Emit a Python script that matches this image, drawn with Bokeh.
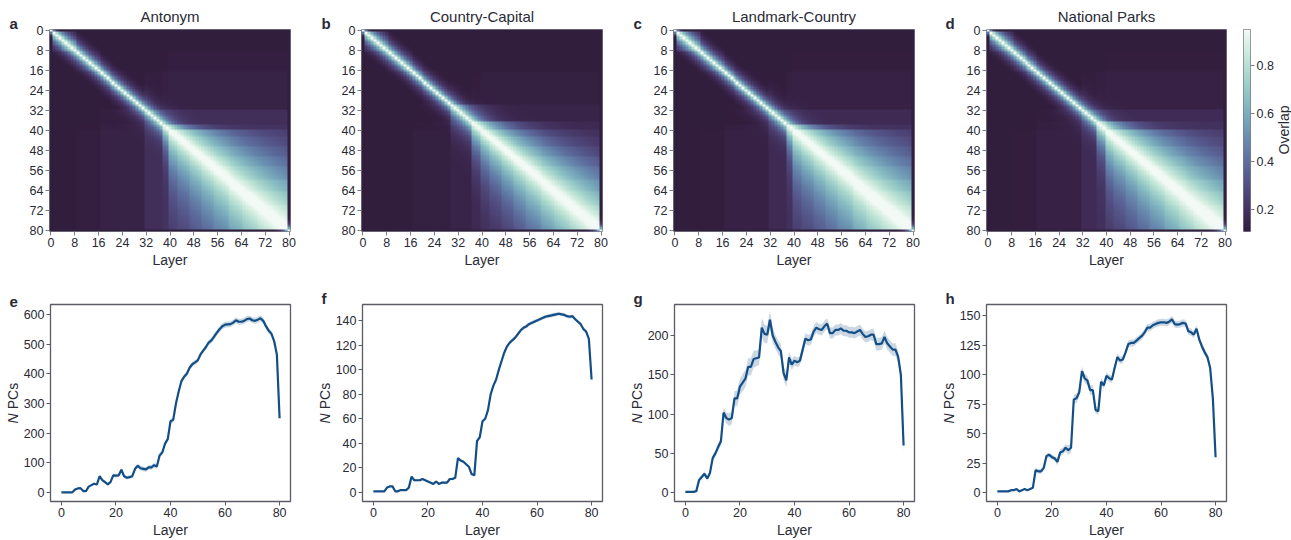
import numpy as np
from bokeh.plotting import figure
from bokeh.models import Range1d, FixedTicker, LinearColorMapper
from bokeh.core.properties import value
from bokeh.layouts import row, column
from bokeh.embed import file_html
from bokeh.resources import INLINE

# ---------------- data ----------------
layers = list(range(81))

titles = ["Antonym", "Country-Capital", "Landmark-Country", "National Parks"]
top_letters = ["a", "b", "c", "d"]
bottom_letters = ["e", "f", "g", "h"]
heat_ticks = [0, 8, 16, 24, 32, 40, 48, 56, 64, 72, 80]
cbar_ticks = [0.2, 0.4, 0.6, 0.8]
overlap_low, overlap_high = 0.11, 0.95

# overlap matrices: per layer segment (start layer), persistence width, background level
antonym_edges = [0, 1, 4, 9, 17, 32, 38, 40, 43, 47, 51, 55, 60, 65, 70, 75, 80]
antonym_width = [1.0, 3.5, 4.0, 3.0, 2.6, 3.0, 6.0, 13, 15, 17, 19, 21, 24, 27, 30, 32, 1.5]
antonym_floor = [0.06, 0.06, 0.06, 0.07, 0.09, 0.16, 0.19, 0.21, 0.21, 0.21, 0.21, 0.21, 0.21, 0.21, 0.21, 0.21, 0.05]

country_edges = [0, 1, 4, 9, 17, 30, 37, 40, 43, 47, 51, 55, 60, 65, 70, 75, 80]
country_width = [1.0, 3.5, 3.5, 3.0, 2.6, 4.0, 8.0, 11, 13, 15, 17, 19, 21, 23, 25, 27, 1.5]
country_floor = [0.06, 0.06, 0.06, 0.07, 0.09, 0.12, 0.15, 0.17, 0.17, 0.17, 0.17, 0.17, 0.17, 0.17, 0.17, 0.17, 0.05]

landmark_edges = [0, 1, 4, 9, 17, 32, 38, 40, 43, 47, 51, 55, 60, 65, 70, 75, 80]
landmark_width = [1.0, 4.0, 4.0, 3.0, 2.6, 3.0, 7.0, 14, 16, 18, 20, 22, 25, 28, 30, 32, 1.5]
landmark_floor = [0.06, 0.06, 0.06, 0.07, 0.09, 0.14, 0.18, 0.20, 0.20, 0.20, 0.20, 0.20, 0.20, 0.20, 0.20, 0.20, 0.05]

parks_edges = [0, 1, 4, 9, 17, 32, 37, 40, 43, 47, 51, 55, 60, 65, 70, 75, 80]
parks_width = [1.0, 3.5, 3.5, 3.0, 2.6, 3.0, 7.0, 13, 15, 17, 19, 21, 24, 27, 30, 32, 1.5]
parks_floor = [0.06, 0.06, 0.06, 0.07, 0.09, 0.15, 0.18, 0.20, 0.20, 0.20, 0.20, 0.20, 0.20, 0.20, 0.20, 0.20, 0.05]

# number of PCs per layer (mean) and CI half width
antonym_npcs = [1, 1, 1, 1, 1, 10, 14, 15, 5, 5,
                20, 25, 30, 27, 55, 42, 35, 28, 35, 58,
                57, 58, 77, 55, 50, 52, 55, 80, 90, 82,
                80, 78, 85, 85, 92, 88, 125, 135, 165, 180,
                240, 245, 300, 340, 375, 390, 400, 420, 432, 438,
                445, 465, 478, 490, 505, 512, 525, 538, 550, 560,
                565, 566, 567, 572, 580, 575, 575, 578, 584, 586,
                580, 578, 582, 587, 578, 560, 545, 535, 510, 465,
                250]
antonym_ci = [1, 1, 1, 1, 1, 2, 2, 2, 2, 2,
              3, 3, 3, 3, 5, 5, 5, 5, 5, 5,
              6, 6, 6, 6, 6, 6, 6, 7, 8, 8,
              8, 8, 8, 8, 8, 8, 8, 8, 8, 8,
              8, 8, 8, 8, 8, 8, 8, 8, 8, 8,
              8, 8, 8, 9, 9, 9, 10, 10, 10, 10,
              10, 10, 10, 10, 10, 10, 10, 10, 10, 10,
              10, 10, 10, 10, 10, 10, 10, 10, 10, 12,
              12]

country_npcs = [1, 1, 1, 1, 1, 4, 5, 5, 1, 1,
                2, 2, 2, 4, 13, 10, 10, 10, 11, 10,
                9, 8, 7, 9, 7, 8, 8, 8, 11, 11,
                12, 28, 26, 25, 23, 21, 15, 14, 42, 45,
                58, 60, 67, 80, 87, 92, 100, 107, 114, 119,
                122, 124, 126, 129, 132, 134, 135, 137, 138, 139,
                140, 141, 142, 143, 143.5, 144, 144.5, 145, 145.5, 145,
                144.5, 143.5, 143, 143.5, 141, 139, 137, 133, 131, 125,
                92]
country_ci = [0.5, 0.5, 0.5, 0.5, 0.5, 0.8, 0.8, 0.8, 0.8, 0.8,
              0.8, 0.8, 0.8, 0.8, 1.0, 1.0, 1.0, 1.0, 1.0, 1.0,
              1.0, 1.0, 1.0, 1.0, 1.0, 1.0, 1.0, 1.0, 1.0, 1.0,
              1.0, 1.2, 1.2, 1.2, 1.2, 1.2, 1.2, 1.2, 1.5, 1.5,
              1.5, 1.5, 1.5, 1.5, 1.5, 1.5, 1.5, 1.5, 1.5, 1.5,
              1.5, 1.5, 1.5, 1.5, 1.5, 1.5, 1.5, 1.5, 1.5, 1.5,
              1.5, 1.5, 1.5, 1.5, 1.5, 1.5, 1.5, 1.5, 1.5, 1.5,
              1.5, 1.5, 1.5, 1.5, 1.5, 1.5, 1.5, 1.5, 1.5, 2.0,
              3.0]

landmark_npcs = [1, 1, 1, 1, 2, 16, 20, 24, 18, 25,
                 44, 50, 58, 65, 102, 95, 93, 95, 120, 120,
                 135, 140, 145, 160, 160, 170, 171, 172, 210, 202,
                 201, 220, 200, 192, 185, 180, 152, 143, 172, 163,
                 168, 166, 168, 182, 196, 194, 195, 205, 210, 208,
                 207, 212, 215, 203, 203, 207, 207, 209, 206, 206,
                 204, 204, 203, 205, 207, 202, 198, 199, 201, 201,
                 189, 189, 190, 198, 190, 186, 182, 182, 173, 150,
                 60]
landmark_ci = [1, 1, 1, 1, 1, 3, 3, 3, 3, 3,
               4, 4, 5, 5, 6, 7, 8, 8, 9, 10,
               10, 11, 11, 11, 11, 11, 10, 10, 12, 12,
               11, 11, 10, 9, 9, 9, 9, 9, 8, 7,
               6, 6, 6, 7, 7, 7, 7, 7, 7, 7,
               7, 7, 7, 7, 7, 7, 7, 7, 7, 7,
               7, 7, 7, 7, 7, 7, 7, 7, 7, 8,
               8, 8, 8, 8, 8, 8, 8, 8, 8, 8,
               8]

parks_npcs = [1, 1, 1, 1, 1, 2, 2, 3, 1, 2,
              3, 2, 3, 4, 19, 18, 18, 21, 31, 32,
              30, 29, 26, 34, 35, 38, 36, 38, 79, 80,
              85, 103, 97, 95, 87, 87, 70, 69, 94, 91,
              99, 97, 96, 106, 115, 112, 113, 119, 126, 127,
              127, 129, 131, 133, 136, 140, 140, 142, 143, 144,
              144.5, 144.5, 144, 145, 147, 143, 142.5, 143, 144, 143.5,
              137, 136, 134, 139, 130, 124, 119, 115, 106, 80,
              30]
parks_ci = [0.5, 0.5, 0.5, 0.5, 0.5, 0.5, 0.5, 0.5, 0.5, 0.5,
            0.5, 0.5, 0.5, 0.8, 2, 2, 2, 2, 2, 2,
            2, 2, 3, 3, 3, 3, 4, 4, 4, 4,
            4, 4, 4, 4, 4, 4, 3, 3, 3, 3,
            3, 3, 3, 3, 3, 3, 3, 3, 3, 3,
            3, 3, 3, 3, 3, 3, 3, 3, 3, 3,
            3, 3, 3, 3, 3, 3, 3, 3, 3, 3,
            3, 3, 3, 3, 3, 3, 3, 3, 3, 3,
            3]

line_ranges = [(-30, 633), (-7.3, 153), (-11.2, 239.4), (-7.6, 159.6)]
line_ticks = [[0, 100, 200, 300, 400, 500, 600],
              [0, 20, 40, 60, 80, 100, 120, 140],
              [0, 50, 100, 150, 200],
              [0, 25, 50, 75, 100, 125, 150]]
x_ticks = [0, 20, 40, 60, 80]

# ---------------- style ----------------
FONT = "Liberation Sans"
TXT = "#2a2a36"
SPINE = "#5c5c68"
HEAT_SPINE = "#7c7c88"
LINE = "#134f86"


def cubehelix_palette(n=256, start=0.5, rot=-0.5, hue=0.8, dark=0.15, light=0.97):
    x = np.linspace(dark, light, n)
    a = hue * x * (1 - x) / 2
    phi = 2 * np.pi * (start / 3 + rot * x)
    c, s = np.cos(phi), np.sin(phi)
    r = x + a * (-0.14861 * c + 1.78277 * s)
    g = x + a * (-0.29227 * c - 0.90649 * s)
    b = x + a * (1.97294 * c)
    rgb = np.clip(np.stack([r, g, b], 1), 0, 1)
    return ["#%02x%02x%02x" % tuple(int(round(v * 255)) for v in col) for col in rgb]


palette = cubehelix_palette()
mapper = LinearColorMapper(palette=palette, low=overlap_low, high=overlap_high)


def overlap_matrix(edges, width, floor):
    w = np.zeros(81)
    b = np.zeros(81)
    bounds = list(edges) + [81]
    for k in range(len(edges)):
        w[bounds[k]:bounds[k + 1]] = width[k]
        b[bounds[k]:bounds[k + 1]] = floor[k]
    idx = np.arange(81)
    d = np.abs(idx[:, None] - idx[None, :])
    wm = np.minimum(w[:, None], w[None, :])
    fm = np.sqrt(b[:, None] * b[None, :])
    return fm + (1 - fm) * np.exp(-d / wm)


def style(p, spine, width=1.2):
    for ax in list(p.xaxis) + list(p.yaxis):
        ax.axis_line_color = None
        ax.major_tick_line_color = spine
        ax.major_tick_line_width = 1
        ax.major_tick_out = 4
        ax.major_tick_in = 0
        ax.minor_tick_line_color = None
        ax.major_label_text_font = FONT
        ax.major_label_text_font_size = "12.5px"
        ax.major_label_text_color = TXT
        ax.major_label_standoff = 2
        ax.axis_label_text_font = FONT
        ax.axis_label_text_font_size = "14px"
        ax.axis_label_text_font_style = "normal"
        ax.axis_label_text_color = TXT
        ax.axis_label_standoff = 2
    p.outline_line_color = spine
    p.outline_line_width = width
    p.grid.visible = False
    p.background_fill_color = "white"
    p.border_fill_color = "white"


def text_fig(width, frame_h, letter, items):
    """Narrow axis-less figure: panel letter as its title, free rotated text in its frame.
    Its frame is aligned with the neighbouring plots' frames, so y is in pixels above frame bottom."""
    p = figure(width=width, height=270, x_range=Range1d(0, width), y_range=Range1d(0, frame_h),
               output_backend="svg", toolbar_location=None, min_border=0,
               x_axis_location=None, y_axis_location=None)
    p.outline_line_color = None
    p.grid.visible = False
    p.border_fill_color = "white"
    p.background_fill_color = "white"
    if letter:
        p.title.text = letter
        p.title.align = "left"
        p.title.offset = 9
        p.title.standoff = -4
        p.title.text_font = FONT
        p.title.text_font_size = "15px"
        p.title.text_font_style = "bold"
        p.title.text_color = TXT
    else:
        p.title = None
    for (x, y, t, fstyle, size, align, angle) in items:
        p.text(x=[x], y=[y], text=[t], angle=angle, text_font=value(FONT),
               text_font_size=value(size), text_font_style=fstyle, text_color=TXT,
               text_align=align, text_baseline="middle")
    return p


mats = [overlap_matrix(antonym_edges, antonym_width, antonym_floor),
        overlap_matrix(country_edges, country_width, country_floor),
        overlap_matrix(landmark_edges, landmark_width, landmark_floor),
        overlap_matrix(parks_edges, parks_width, parks_floor)]
series = [(antonym_npcs, antonym_ci), (country_npcs, country_ci),
          (landmark_npcs, landmark_ci), (parks_npcs, parks_ci)]

LAB_W = 20
top_geo = [(292, 29, 22), (292, 29, 22), (292, 29, 22), (280, 30, 10)]
bot_geo = [(292, 29, 22), (292, 29, 22), (292, 29, 22), (335, 30, 65)]

top_items = []
for k in range(4):
    W, L, R = top_geo[k]
    lab = text_fig(LAB_W, 202, top_letters[k], [])
    p = figure(width=W, height=270, x_range=Range1d(-0.5, 80.5), y_range=Range1d(80.5, -0.5),
               output_backend="svg", toolbar_location=None,
               min_border_left=L, min_border_right=R, min_border_top=29, min_border_bottom=39)
    p.image(image=[mats[k]], x=-0.5, y=-0.5, dw=81, dh=81, color_mapper=mapper)
    style(p, HEAT_SPINE, 1.0)
    p.xaxis.ticker = FixedTicker(ticks=heat_ticks)
    p.yaxis.ticker = FixedTicker(ticks=heat_ticks)
    p.xaxis.axis_label = "Layer"
    p.title.text = titles[k]
    p.title.align = "center"
    p.title.text_font = FONT
    p.title.text_font_size = "15px"
    p.title.text_font_style = "normal"
    p.title.text_color = TXT
    p.title.standoff = 10
    top_items += [lab, p]

# colour bar
cb = figure(width=40, height=270, x_range=Range1d(0, 1), y_range=Range1d(overlap_low, overlap_high),
            output_backend="svg", toolbar_location=None, x_axis_location=None,
            y_axis_location="right", min_border_left=7, min_border_right=23,
            min_border_top=28, min_border_bottom=39, title=None)
grad = np.linspace(overlap_low, overlap_high, 256).reshape(256, 1)
cb.image(image=[grad], x=0, y=overlap_low, dw=1, dh=overlap_high - overlap_low, color_mapper=mapper)
style(cb, HEAT_SPINE, 1.0)
cb.yaxis.ticker = FixedTicker(ticks=cbar_ticks)
cb_lab = text_fig(15, 202, None, [(7, 101.5, "Overlap", "normal", "14px", "center", np.pi / 2)])
top_items += [cb, cb_lab]

bot_items = []
for k in range(4):
    W, L, R = bot_geo[k]
    y, ci = series[k]
    lo = [a - b for a, b in zip(y, ci)]
    hi = [a + b for a, b in zip(y, ci)]
    lab = text_fig(LAB_W, 203, bottom_letters[k],
                   [(12, 80.5, "N", "italic", "14px", "left", np.pi / 2),
                    (12, 95, "PCs", "normal", "14px", "left", np.pi / 2)])
    p = figure(width=W, height=270, x_range=Range1d(-4, 84), y_range=Range1d(*line_ranges[k]),
               output_backend="svg", toolbar_location=None, title=None,
               min_border_left=L, min_border_right=R, min_border_top=34, min_border_bottom=33)
    p.varea(x=layers, y1=lo, y2=hi, fill_color=LINE, fill_alpha=0.22)
    p.line(layers, y, line_color=LINE, line_width=2.2)
    style(p, SPINE, 1.3)
    p.xaxis.ticker = FixedTicker(ticks=x_ticks)
    p.yaxis.ticker = FixedTicker(ticks=line_ticks[k])
    p.xaxis.axis_label = "Layer"
    bot_items += [lab, p]

layout = column(row(*top_items), row(*bot_items))
open("out.html", "w").write(file_html(layout, INLINE))
